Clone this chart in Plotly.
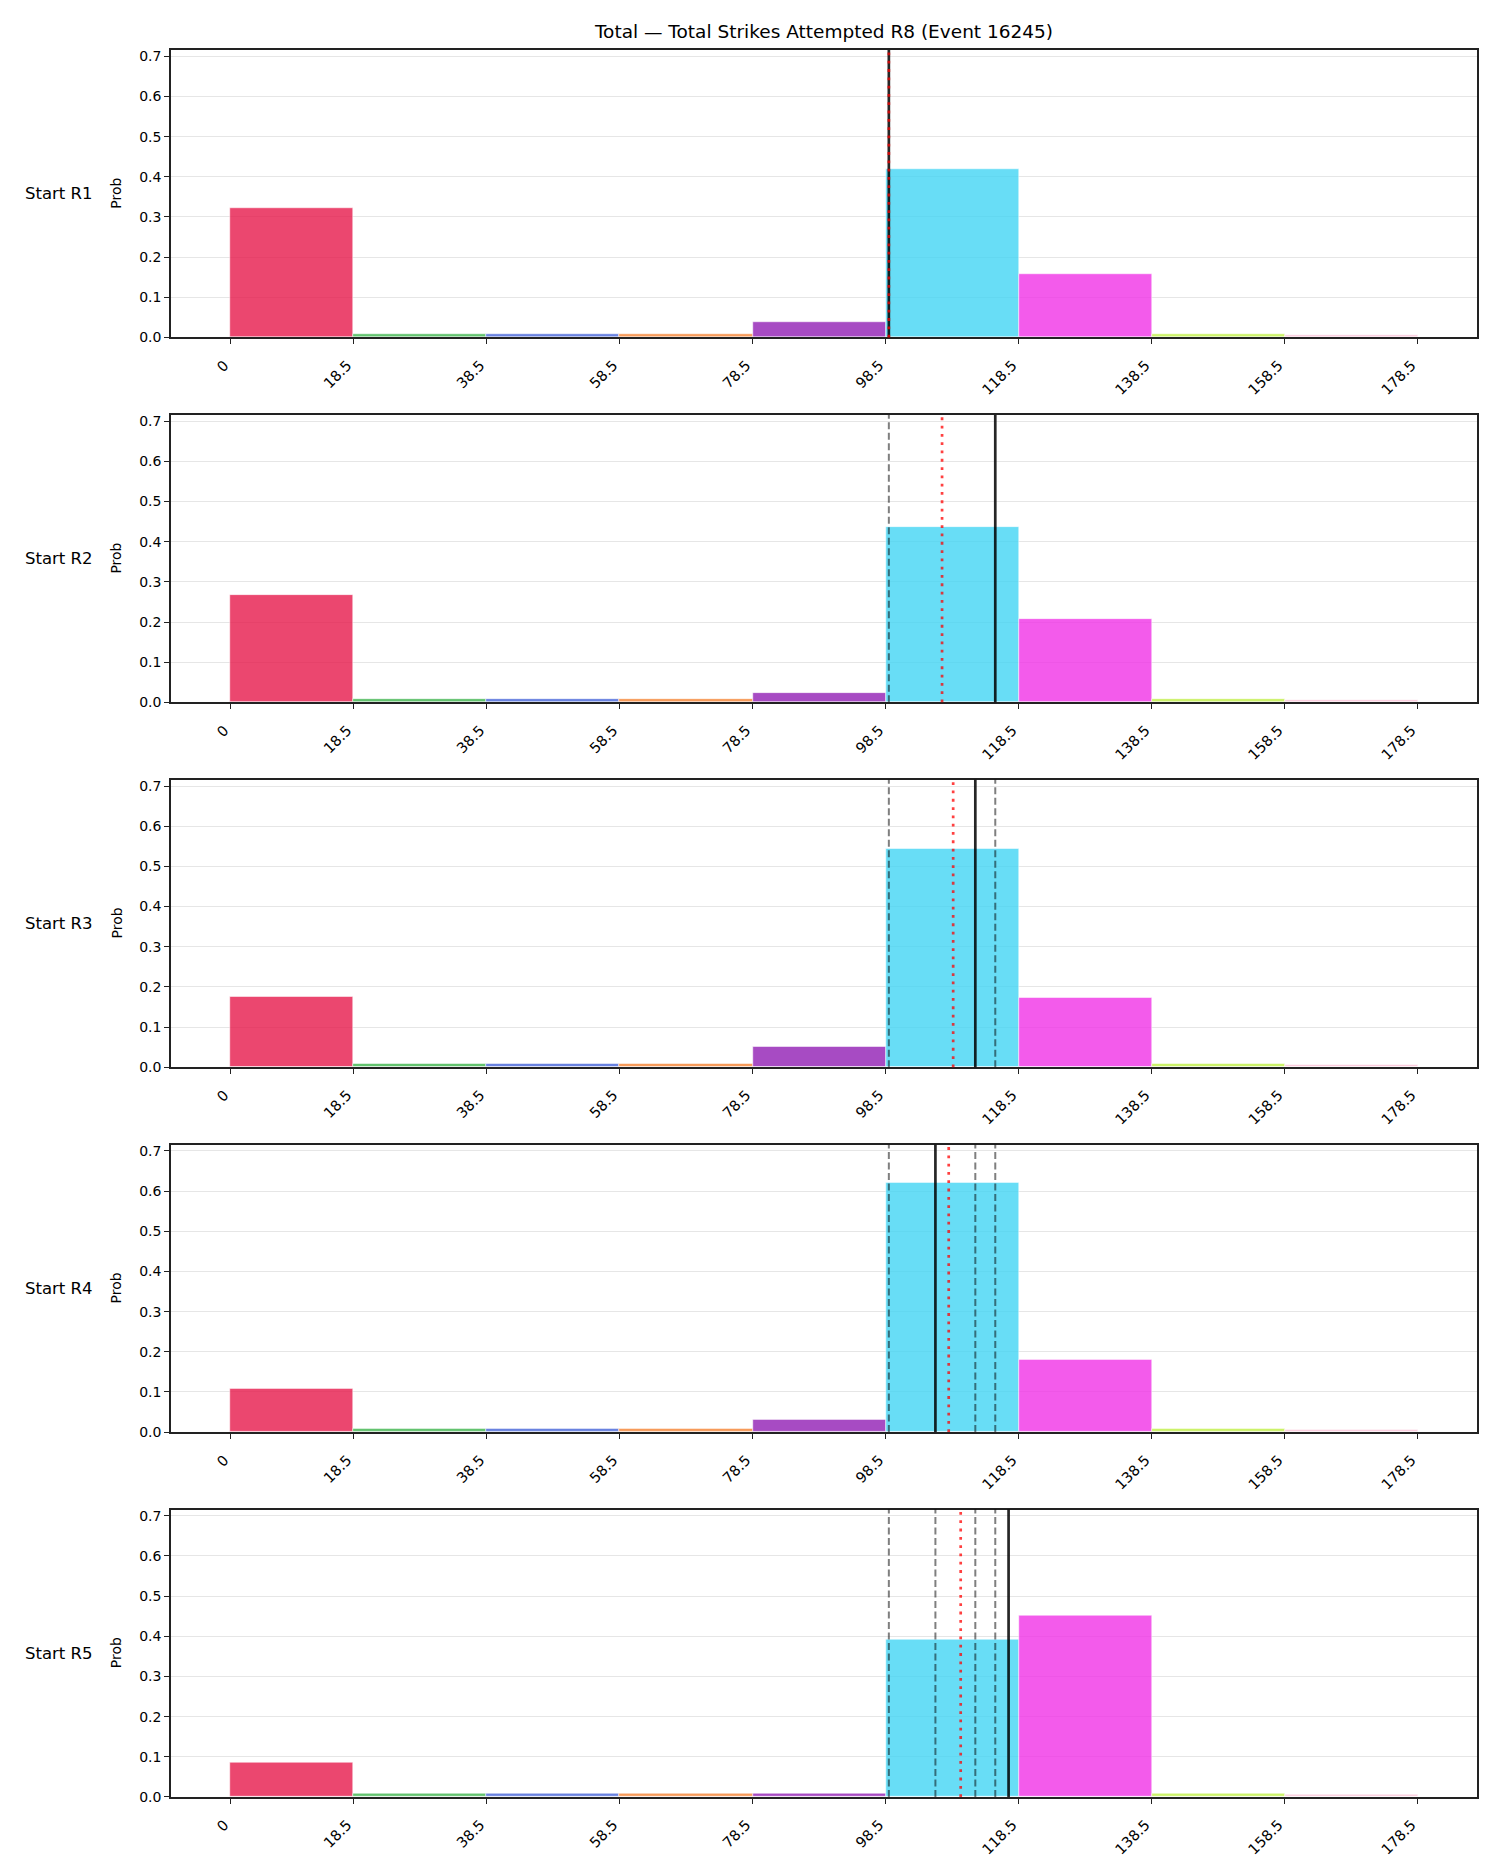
import plotly.graph_objects as go

# ---- data ----
bin_edges = [0, 18.5, 38.5, 58.5, 78.5, 98.5, 118.5, 138.5, 158.5, 178.5]
tick_labels = ["0", "18.5", "38.5", "58.5", "78.5", "98.5", "118.5", "138.5", "158.5", "178.5"]
row_labels = ["Start R1", "Start R2", "Start R3", "Start R4", "Start R5"]

prob_r1 = [0.322, 0.0075, 0.0075, 0.0075, 0.0375, 0.419, 0.159, 0.0075, 0.007]
prob_r2 = [0.268, 0.0075, 0.0075, 0.0075, 0.024, 0.438, 0.209, 0.0075, 0.007]
prob_r3 = [0.176, 0.0075, 0.0075, 0.0075, 0.050, 0.543, 0.174, 0.0075, 0.007]
prob_r4 = [0.108, 0.0075, 0.0075, 0.0075, 0.032, 0.620, 0.181, 0.0075, 0.007]
prob_r5 = [0.086, 0.0075, 0.0075, 0.0075, 0.0075, 0.392, 0.452, 0.0075, 0.007]
probs = [prob_r1, prob_r2, prob_r3, prob_r4, prob_r5]

actual_values = [99, 115, 112, 106, 117]          # solid black lines
previous_values = [[], [99], [99, 115], [99, 115, 112], [99, 115, 112, 106]]  # dashed
mean_values = [99, 107, 108.67, 108, 109.8]       # red dotted

bin_colors = ["230,25,75", "60,180,75", "67,99,216", "245,130,49", "145,30,180",
              "66,212,244", "240,50,230", "191,239,69", "250,190,212"]

title_text = "Total — Total Strikes Attempted R8 (Event 16245)"

# ---- layout geometry ----
W, H = 1500, 1875
ml, mr, mt, mb = 171, 23, 50.2, 1875 - 1797.3
plot_h = H - mt - mb
ax_h = 287.5
gap = (plot_h - 5 * ax_h) / 4
x_range = [-0.05 * 178.5, 178.5 * 1.05]
y_range = [0, 0.7157]
FONT = "DejaVu Sans"

fig = go.Figure()
layout_axes = {}
shapes = []
annotations = []
widths = [bin_edges[i + 1] - bin_edges[i] for i in range(len(bin_edges) - 1)]

for r in range(5):
    top = min(1.0, max(0.0, 1 - (r * (ax_h + gap)) / plot_h))
    bottom = min(1.0, max(0.0, top - ax_h / plot_h))
    xa = "x" if r == 0 else f"x{r+1}"
    ya = "y" if r == 0 else f"y{r+1}"
    fig.add_trace(go.Bar(
        x=bin_edges[:-1], y=probs[r], width=widths, offset=0,
        marker=dict(color=[f"rgba({c},0.8)" for c in bin_colors],
                    line=dict(color="white", width=0.5)),
        xaxis=xa, yaxis=ya, showlegend=False, hoverinfo="x+y",
    ))
    xkey = "xaxis" if r == 0 else f"xaxis{r+1}"
    ykey = "yaxis" if r == 0 else f"yaxis{r+1}"
    layout_axes[xkey] = dict(
        domain=[0, 1], anchor=ya, range=x_range, tickmode="array",
        tickvals=bin_edges, ticktext=tick_labels, tickangle=-45,
        ticklabelstandoff=7, ticklabelshift=-6,
        showgrid=False, zeroline=False, showline=True, mirror=True,
        linecolor="#222", linewidth=1.5, ticks="outside", ticklen=5,
        tickwidth=1.4, tickcolor="#222",
        tickfont=dict(family=FONT, size=14.5, color="black"),
    )
    layout_axes[ykey] = dict(
        domain=[bottom, top], anchor=xa, range=y_range,
        tickvals=[0, 0.1, 0.2, 0.3, 0.4, 0.5, 0.6, 0.7], tickformat=".1f",
        showgrid=True, gridcolor="#e6e6e6", gridwidth=1, zeroline=False,
        showline=True, mirror=True, linecolor="#222", linewidth=1.5,
        ticks="outside", ticklen=5, tickwidth=1.4, tickcolor="#222",
        tickfont=dict(family=FONT, size=14, color="black"),
    )
    xref = xa
    yref = f"{ya} domain"
    for v in previous_values[r]:
        shapes.append(dict(type="line", xref=xref, yref=yref, x0=v, x1=v, y0=0, y1=1,
                           line=dict(color="rgba(0,0,0,0.5)", width=2, dash="7px,3.5px")))
    shapes.append(dict(type="line", xref=xref, yref=yref, x0=actual_values[r], x1=actual_values[r],
                       y0=0, y1=1, line=dict(color="rgba(0,0,0,0.85)", width=2.7)))
    shapes.append(dict(type="line", xref=xref, yref=yref, x0=mean_values[r], x1=mean_values[r],
                       y0=0, y1=1, line=dict(color="rgba(255,0,0,0.75)", width=2.7, dash="2.8px,5.5px")))
    ymid = (top + bottom) / 2
    annotations.append(dict(text="Prob", xref="paper", yref="paper", x=(116 - ml) / (W - ml - mr),
                            y=ymid, xanchor="center", yanchor="middle", textangle=-90,
                            showarrow=False, font=dict(family=FONT, size=14, color="black")))
    annotations.append(dict(text=row_labels[r], xref="paper", yref="paper", x=(23 - ml) / (W - ml - mr),
                            y=ymid, xanchor="left", yanchor="middle",
                            showarrow=False, font=dict(family=FONT, size=16.5, color="black")))

fig.update_layout(
    width=W, height=H,
    margin=dict(l=ml, r=mr, t=mt, b=mb, autoexpand=False),
    paper_bgcolor="white", plot_bgcolor="white",
    bargap=0,
    title=dict(text=title_text, x=(ml + (W - ml - mr) / 2) / W, xanchor="center",
               y=1 - 32 / H, yanchor="middle", yref="container",
               font=dict(family=FONT, size=18.5, color="black")),
    shapes=shapes, annotations=annotations,
    font=dict(family=FONT),
    **layout_axes,
)

fig.write_html("out.html")
